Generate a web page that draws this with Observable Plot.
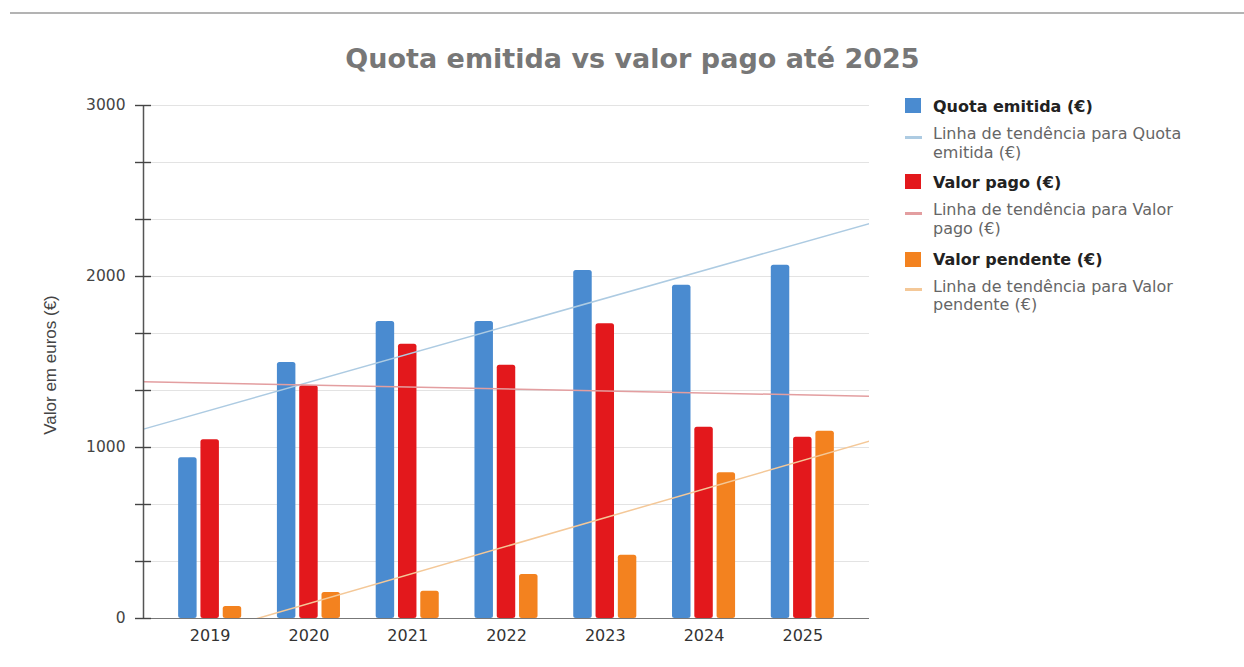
<!DOCTYPE html>
<html>
<head>
<meta charset="utf-8">
<script src="https://cdn.jsdelivr.net/npm/d3@7"></script>
<script src="https://cdn.jsdelivr.net/npm/@observablehq/plot@0.6"></script>
<style>
  html, body { margin: 0; padding: 0; background: #fff; }
  body { width: 1244px; height: 667px; position: relative; overflow: hidden; font-family: "DejaVu Sans", Verdana, sans-serif; }
  #topline { position: absolute; left: 10px; right: 0; top: 12px; height: 0; border-top: 2px solid #b3b3b3; }
  #title { position: absolute; left: 0; width: 1265px; top: 43px; text-align: center; font-size: 27px; line-height: 32px; font-weight: bold; color: #777; }
  #ylabel { position: absolute; left: 51px; top: 365px; transform: translate(-50%, -50%) rotate(-90deg); font-family: "Liberation Sans", Arial, sans-serif; font-size: 17px; color: #444; white-space: nowrap; }
  #chart { position: absolute; left: 0; top: 0; }
  #legend { position: absolute; left: 0; top: 0; }
  .sw { position: absolute; left: 905px; width: 16px; height: 15px; }
  .dash { position: absolute; left: 905px; width: 17px; height: 3px; }
  .lb { position: absolute; left: 933px; font-size: 16px; line-height: 19px; font-weight: bold; color: #222; white-space: nowrap; }
  .lt { position: absolute; left: 933px; font-size: 16px; line-height: 18.7px; color: #666; white-space: nowrap; }
</style>
</head>
<body>
<div id="topline"></div>
<div id="title">Quota emitida vs valor pago até 2025</div>
<div id="ylabel">Valor em euros (€)</div>
<div id="chart"></div>
<div id="legend"></div>
<script>
const years = [2019, 2020, 2021, 2022, 2023, 2024, 2025];
const quotaEmitida = [940, 1497, 1737, 1737, 2035, 1949, 2066];
const valorPago = [1045, 1361, 1604, 1481, 1723, 1119, 1060];
const valorPendente = [70, 152, 160, 257, 370, 852, 1095];
const seriesNames = ["Quota emitida (€)", "Valor pago (€)", "Valor pendente (€)"];
const seriesValues = [quotaEmitida, valorPago, valorPendente];
const barColors = ["#4a8bd0", "#e3181c", "#f3821f"];
const trendColors = ["#adcbe2", "#e39ea0", "#f4c898"];
const majorTicks = [0, 1000, 2000, 3000];
const minorTicks = d3.range(0, 10).map(i => i * 1000 / 3);

const xDomain = [years[0] - 0.675, years[years.length - 1] + 0.675];
const barStep = 0.2257, barWidth = 0.187;

const bars = [];
seriesValues.forEach((vals, s) => {
  vals.forEach((v, i) => {
    const c = years[i] + (s - 1) * barStep;
    bars.push({series: seriesNames[s], x1: c - barWidth / 2, x2: c + barWidth / 2, value: v});
  });
});

function regression(xs, ys) {
  const n = xs.length;
  const mx = d3.mean(xs), my = d3.mean(ys);
  let sxy = 0, sxx = 0;
  for (let i = 0; i < n; i++) { sxy += (xs[i] - mx) * (ys[i] - my); sxx += (xs[i] - mx) ** 2; }
  const b = sxy / sxx;
  return x => my + b * (x - mx);
}

const trendMarks = seriesValues.map((vals, s) => {
  const f = regression(years, vals);
  const pts = xDomain.map(x => ({x, y: f(x)}));
  return Plot.line(pts, {x: "x", y: "y", stroke: trendColors[s], strokeWidth: 1.5, clip: true});
});

const chart = Plot.plot({
  width: 880,
  height: 660,
  marginLeft: 143,
  marginRight: 11,
  marginTop: 105,
  marginBottom: 42,
  x: {domain: xDomain, axis: null},
  y: {domain: [0, 3000], axis: null},
  color: {domain: seriesNames, range: barColors},
  style: {fontFamily: "DejaVu Sans, Verdana, sans-serif", color: "#333", background: "transparent", overflow: "visible"},
  marks: [
    Plot.ruleY(minorTicks, {stroke: "#e3e3e3", strokeWidth: 1}),
    Plot.rectY(bars, {x1: "x1", x2: "x2", y1: 0, y2: "value", fill: "series", rx: 2.5}),
    ...trendMarks,
    Plot.ruleY([0], {stroke: "#777", strokeWidth: 1.2}),
    Plot.ruleX([xDomain[0]], {stroke: "#555", strokeWidth: 1.5}),
    Plot.axisY({ticks: minorTicks, tickSize: 16, dx: 8, tickFormat: () => "", label: null, stroke: "#444", strokeWidth: 1.4}),
    Plot.axisY({ticks: majorTicks, tickSize: 0, tickPadding: 18, tickFormat: d => String(d), label: null, fontSize: 15.5, fill: "#444"}),
    Plot.axisX({ticks: years, tickSize: 0, tickPadding: 11, tickFormat: d => String(d), label: null, fontSize: 16, fill: "#333"})
  ]
});
document.getElementById("chart").appendChild(chart);

// legend
const legend = document.getElementById("legend");
const boldBaselines = [111.7, 187.7, 265];
const trendBaselines = [140, 215.7, 292.3];
seriesNames.forEach((name, s) => {
  const sw = document.createElement("div");
  sw.className = "sw";
  sw.style.top = (boldBaselines[s] - 13.5) + "px";
  sw.style.background = barColors[s];
  legend.appendChild(sw);
  const lb = document.createElement("div");
  lb.className = "lb";
  lb.style.top = (boldBaselines[s] - 15) + "px";
  lb.textContent = name;
  legend.appendChild(lb);
  const dash = document.createElement("div");
  dash.className = "dash";
  dash.style.top = (trendBaselines[s] - 4) + "px";
  dash.style.background = trendColors[s];
  legend.appendChild(dash);
  const sp = name.indexOf(" ");
  const lt = document.createElement("div");
  lt.className = "lt";
  lt.style.top = (trendBaselines[s] - 14.8) + "px";
  lt.appendChild(document.createTextNode("Linha de tendência para " + name.slice(0, sp)));
  lt.appendChild(document.createElement("br"));
  lt.appendChild(document.createTextNode(name.slice(sp + 1)));
  legend.appendChild(lt);
});
</script>
</body>
</html>
